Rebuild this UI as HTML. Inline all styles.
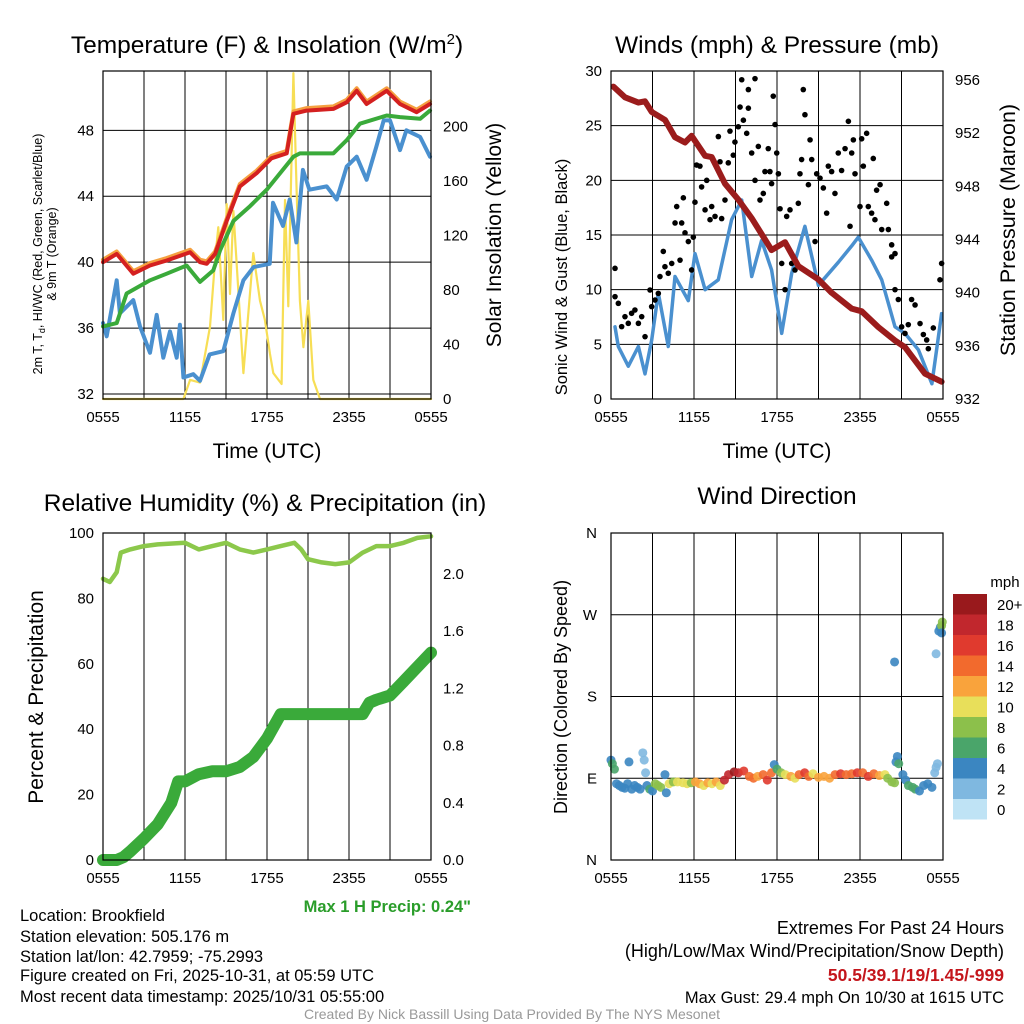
<!DOCTYPE html>
<html><head><meta charset="utf-8"><style>
body{margin:0;background:#fff;font-family:"Liberation Sans",sans-serif}
#wrap{position:relative;width:1024px;height:1024px;overflow:hidden}
svg text{font-family:"Liberation Sans",sans-serif}
</style></head><body><div id="wrap">
<svg id="s" width="1024" height="1024" viewBox="0 0 1024 1024" xmlns="http://www.w3.org/2000/svg"></svg>
</div>
<script>
const xTickLabels=["0555","1155","1755","2355","0555"];
// Temperature panel (hours since 0555)
const tHours=[0,1,2.22,3.44,4.66,6.37,7.1,7.59,8.2,9.05,10.02,11.24,12.32,13.44,13.93,14.9,16.85,17.83,18.56,19.29,20.76,21.73,22.95,23.93];
const tempRed=[40,40.5,39.3,39.8,40.1,40.6,40,39.9,40.5,42.5,44.6,45.4,46.3,46.6,49,49.2,49.3,49.7,50.4,49.6,50.4,49.6,49.1,49.6];
const gHours=[0,1,1.73,3.44,4.66,6.12,7.1,8.07,8.56,9.54,10.76,11.98,13.93,14.41,16.85,17.83,18.8,20.76,21.73,23.2,23.93];
const tempGreen=[36.1,36.3,38.1,38.9,39.3,39.8,38.8,39.5,40.7,42.5,43.4,44.4,46.4,46.6,46.6,47.4,48.4,48.9,48.8,48.7,49.2];
const bHours=[0,0.27,1,1.24,2.22,2.71,3.44,3.93,4.41,4.9,5.39,5.63,5.88,6.61,7.1,7.8,8.8,9.54,10.27,11.02,12.2,12.44,13.17,13.66,14.15,14.63,15.1,16.37,17.1,17.83,18.56,19.29,20,20.54,21,21.73,22.2,23.2,23.93];
const tempBlue=[36.3,35.5,38.9,36.9,37.7,36.1,34.5,36.8,34.2,35.8,34.2,36.2,33,33.2,32.8,34.4,34.6,36.9,38.9,39.7,39.9,43.6,42.2,43.8,41.2,45.6,44.4,44.6,43.8,45.8,46.4,45,47,48.6,48.6,46.8,48,47.6,46.4];
const sHours=[0,5.88,6.37,7.1,7.83,8.2,8.44,8.8,9.05,9.29,9.54,10.27,11,11.49,11.85,12.22,12.46,13.07,13.32,13.56,13.93,14.17,14.41,14.66,15.02,15.39,15.88,24];
const solar=[0,0,14,12,53,102,126,58,143,77,138,19,107,72,58,33,19,11,146,68,239,151,72,38,72,14,0,0];
const tempTicks=[32,36,40,44,48];
const solarTicks=[0,40,80,120,160,200];
// Wind panel
const wHours=[0.29,0.53,1.25,1.98,2.46,2.94,3.42,4.14,4.63,5.59,6.07,6.8,7.76,8.72,9.45,10.17,10.89,11.61,12.34,13.06,14.02,14.99,16.43,17.4,17.88,18.84,19.57,20.53,21.25,22.22,23.2,23.9];
const windSpeed=[6.6,4.8,3,4.8,2.3,5.4,9.7,4.8,11.2,9,13.3,10,10.9,16.4,18.2,11.2,14.5,11.8,6,11.5,15.8,10.4,12.5,14,14.8,12.7,10.9,6.6,6,4.5,1.4,7.8];
const gustHours=[0.29,0.29,0.53,0.77,1.01,1.25,1.49,1.73,1.98,2.22,2.46,2.82,2.94,3.18,3.42,3.54,3.78,3.9,4.14,4.39,4.63,4.75,4.99,5.11,5.35,5.23,5.59,5.83,5.95,6.07,6.19,6.43,6.55,6.8,6.92,7.16,7.28,7.52,7.76,7.88,8,8.24,8.48,8.6,8.84,8.96,9.2,9.33,9.45,9.57,9.81,9.93,9.93,10.17,10.41,10.41,10.65,10.77,11.01,11.13,11.37,11.49,11.61,11.73,11.86,11.98,12.1,12.22,12.34,12.58,12.7,12.94,13.06,13.3,13.54,13.66,13.78,13.9,14.02,14.27,14.39,14.51,14.75,14.87,15.11,15.35,15.59,15.71,15.95,16.19,16.43,16.67,16.92,17.16,17.28,17.4,17.52,17.64,18,18.12,18.24,18.48,18.6,18.84,18.96,19.08,19.2,19.45,19.57,19.93,20.05,20.29,20.29,20.53,20.53,20.77,21.01,21.25,21.49,21.73,21.98,22.34,22.58,22.82,22.94,23.3,23.78,23.9];
const gust=[11.95,9.36,8.75,6.62,7.53,6.92,7.84,8.14,6.92,7.53,5.7,9.97,8.45,9.05,9.66,11.2,13.5,12.1,11.5,12.4,16.1,17.6,12.7,16.1,15.2,18.4,14.4,11.8,14.8,18,21.4,21.3,19.4,17.3,20,16.4,17.6,16.7,24,21.7,16.5,18.2,21.6,24.5,22.3,23.5,24.9,26.7,29.2,25.5,24.3,28.3,26.6,22.5,29.3,20,23.1,18.2,18.8,20.8,22.9,20.8,19.7,27.7,25.1,22.5,20.6,17.4,12.4,10,16.7,17.3,12.4,11.8,17.9,20.6,21.9,28.3,26,19.6,23.7,21.9,14.4,20.6,20.2,19.3,17,21.3,20.8,18.8,22.5,20.9,22.9,25.4,15.8,22.5,23.7,20.6,17.6,23.8,21.3,24.3,17.6,17,22,16.4,19.1,19.6,15.5,17.9,15.5,14.1,13,13.3,10,9.1,6.6,6,6.8,9.1,8.6,6.9,5.9,5.4,4.6,6.5,10.9,12.4];
const pHours=[0.17,1.01,1.98,2.46,2.94,3.9,4.63,5.35,5.83,6.8,7.28,8.24,9.2,10.17,11.61,12.58,13.54,14.99,15.95,17.4,18.12,19.33,20.53,21.25,22.7,23.9];
const pressure=[955.5,954.7,954.3,954.4,953.6,953,951.7,951.3,951.8,950.3,950.2,948.2,947,945.6,943.2,943.8,942,941,940,938.8,938.6,937.4,936.4,935.9,933.9,933.3];
const windTicks=[0,5,10,15,20,25,30];
const presTicks=[932,936,940,944,948,952,956];
// RH panel
const rhHours=[0,0.5,1,1.3,2,3,4,6,7,8,9,10,11,12,13,14,14.5,15,16,17,18,19,20,21,22,23,24];
const rh=[86,85,88,94,95,96,96.5,97,95,96,97,95,94,95,96,97,95,92,91,90.5,91,94,96,96,97,98.5,99];
const prHours=[0,1,1.5,2,3,4,5,5.5,6,7,8,9,10,11,12,13,14,19,19.5,20,21,22,23,24];
const precip=[0,0,0.02,0.06,0.15,0.25,0.4,0.55,0.55,0.6,0.62,0.62,0.65,0.72,0.85,1.02,1.02,1.02,1.1,1.12,1.15,1.25,1.35,1.45];
const rhTicks=[0,20,40,60,80,100];
const prTicks=["0.0","0.4","0.8","1.2","1.6","2.0"];
// Wind direction panel
const dHours=[0,0.1,0.25,0.4,0.6,0.8,1,1.2,1.3,1.5,1.7,1.9,2.1,2.3,2.4,2.5,2.6,2.8,3,3.2,3.4,3.6,3.9,4,4.2,4.5,4.8,5.2,5.5,5.8,6.1,6.4,6.7,7,7.3,7.6,7.9,8.2,8.5,8.9,9.2,9.6,10,10.3,10.6,11,11.3,11.6,11.8,12,12.3,12.6,13,13.3,13.6,14,14.3,14.6,15,15.4,15.8,16.2,16.6,17,17.4,17.8,18.2,18.6,19,19.4,19.8,20,20.3,20.5,20.6,20.7,20.8,21.1,21.3,21.5,21.8,22,22.3,22.6,22.9,23.2,23.4,23.5,23.6,20.5,23.5,23.7,23.8,23.9,23.95,23.9];
const direction=[110,106,100,84,82,80,79,84,108,78,82,80,78,118,110,96,82,78,76,84,82,80,94,74,84,86,86,85,84,85,86,84,82,85,84,86,82,88,94,97,96,98,92,90,92,94,88,96,105,100,96,94,92,90,94,96,92,95,91,92,90,94,95,94,95,96,96,92,95,93,94,90,86,85,108,114,106,94,88,82,80,78,76,82,84,80,96,102,106,218,227,252,256,258,262,250];
const dirSpeed=[4,6,6,4,4,4,4,4,4,4,4,4,4,2,2,2,4,6,4,8,7,8,4,4,9,8,10,10,10,8,11,12,10,12,10,12,10,18,18,19,17,16,14,13,12,14,15,14,4,6,8,10,12,9,14,16,13,10,12,12,12,14,15,14,14,15,13,15,13,12,10,8,8,7,4,4,6,4,4,5,6,5,4,4,4,4,2,2,2,4,1,4,4,7,7,4];
const dirTicks=["N","E","S","W","N"];
const cbLabels=["20+","18","16","14","12","10","8","6","4","2","0"];
const cbColors=["#99191c","#c1272d","#e03a2e","#f26a2d","#f9a33c","#e8df5a","#8cc04b","#4aa56a","#3b86c1","#7fb8e0","#bfe3f5"];

const S=document.getElementById('s');const NS="http://www.w3.org/2000/svg";
function mk(tag,at,parent){const e=document.createElementNS(NS,tag);for(const k in at)e.setAttribute(k,at[k]);(parent||S).appendChild(e);return e;}
function txt(x,y,str,size,anchor,extra){const t=mk('text',Object.assign({x:x,y:y,'font-size':size,'text-anchor':anchor||'middle',fill:'#000'},extra||{}));t.textContent=str;return t;}
function lin(d0,d1,r0,r1){return v=>r0+(v-d0)/(d1-d0)*(r1-r0);}

function frame(x0,y0,x1,y1,name){
 const g=mk('g',{});
 
 
 const xs=lin(0,24,x0,x1);
 for(let h=3;h<24;h+=3){mk('line',{x1:xs(h),x2:xs(h),y1:y0,y2:y1,stroke:'#000','stroke-width':1},g);}
 for(let i=0;i<5;i++){const x=xs(i*6);
  const t=txt(x,y1+23,xTickLabels[i],15);
  
  }
 return {g,xs};
}
function box(x0,y0,x1,y1){mk('rect',{x:x0,y:y0,width:x1-x0,height:y1-y0,fill:'none',stroke:'#000','stroke-width':1.2});}
function path(xs,ys,hx,vals,stroke,w,name){let d='';for(let i=0;i<hx.length;i++)d+=(i?'L':'M')+xs(hx[i]).toFixed(1)+','+ys(vals[i]).toFixed(1);
 const p=mk('path',{d:d,fill:'none',stroke:stroke,'stroke-width':w,'stroke-linejoin':'round','stroke-linecap':'round'});
 
 
 return p;}

// Panel 1
(function(){const X0=103,X1=431,Y0=71,Y1=399;
 const f=frame(X0,Y0,X1,Y1,'temperature-panel');const xs=f.xs;
 const ys=lin(32,51.6,394,71);const ss=lin(0,240.6,399,71);
 tempTicks.forEach(v=>{mk('line',{x1:X0,x2:X1,y1:ys(v),y2:ys(v),stroke:'#000'});const t=txt(X0-9,ys(v)+5,String(v),15,'end');});
 solarTicks.forEach(v=>{const t=txt(X1+12,ss(v)+5,String(v),15,'start');});
 path(xs,ss,sHours,solar,'#f7de55',2.2,'solar-line');
 path(xs,ys,bHours,tempBlue,'#4a90cf',4,'dewpoint-line');
 path(xs,ys,gHours,tempGreen,'#3aaa3a',4,'heat-index-line');
 path(xs,ys,tHours,tempRed.map(v=>v+0.15),'#f5a040',4,'temp-9m-line');
 path(xs,ys,tHours,tempRed,'#d42020',4,'temp-2m-line');
 box(X0,Y0,X1,Y1);
 const ti=txt(267,53,'Temperature (F) & Insolation (W/m',24.5);const sup=mk('tspan',{dy:-9,'font-size':15},ti);sup.textContent='2';const cl=mk('tspan',{dy:9},ti);cl.textContent=')';
 
 const xl=txt(267,458,'Time (UTC)',21);
 const yl=txt(0,0,'2m T, T',12.5,'middle',{transform:'translate(42,254) rotate(-90)'});const sub=mk('tspan',{dy:3,'font-size':9},yl);sub.textContent='d';const r=mk('tspan',{dy:-3},yl);r.textContent=', HI/WC (Red, Green, Scarlet/Blue)';
 
 const yl2=txt(0,0,'& 9m T (Orange)',12.5,'middle',{transform:'translate(56,254) rotate(-90)'});
 const yr=txt(0,0,'Solar Insolation (Yellow)',21,'middle',{transform:'translate(501,235) rotate(-90)'});
})();
// Panel 2
(function(){const X0=611,X1=943,Y0=71,Y1=399;
 const f=frame(X0,Y0,X1,Y1,'wind-panel');const xs=f.xs;
 const ys=lin(0,30,399,71);const ps=lin(932,956,399,80);
 windTicks.forEach(v=>{mk('line',{x1:X0,x2:X1,y1:ys(v),y2:ys(v),stroke:'#000'});const t=txt(X0-9,ys(v)+5,String(v),15,'end');});
 presTicks.forEach(v=>{const t=txt(X1+12,ps(v)+5,String(v),15,'start');});
 path(xs,ys,wHours,windSpeed,'#4a90cf',3.5,'wind-speed-line');
 gust.forEach((v,i)=>{const c=mk('circle',{cx:xs(gustHours[i]),cy:ys(v),r:2.8,fill:'#000'});});
 path(xs,ps,pHours,pressure,'#9b1c1c',6,'pressure-line');
 box(X0,Y0,X1,Y1);
 const ti=txt(777,53,'Winds (mph) & Pressure (mb)',24.5);
 const xl=txt(777,458,'Time (UTC)',21);
 const yl=txt(0,0,'Sonic Wind & Gust (Blue, Black)',16.5,'middle',{transform:'translate(567,277) rotate(-90)'});
 const yr=txt(0,0,'Station Pressure (Maroon)',21.5,'middle',{transform:'translate(1015,230) rotate(-90)'});
})();
// Panel 3
(function(){const X0=103,X1=431,Y0=533,Y1=860;
 const f=frame(X0,Y0,X1,Y1,'humidity-panel');const xs=f.xs;
 const ys=lin(0,100,860,533);const ps=lin(0,2,860,574);
 rhTicks.forEach(v=>{const t=txt(X0-9,ys(v)+5,String(v),15,'end');});
 prTicks.forEach(v=>{const t=txt(X1+12,ps(+v)+5,v,15,'start');});
 path(xs,ys,rhHours,rh,'#8cc84b',4.5,'rh-line');
 path(xs,ps,prHours,precip,'#3aaa3a',12,'precip-line');
 box(X0,Y0,X1,Y1);
 const ti=txt(265,511,'Relative Humidity (%) & Precipitation (in)',24.5);
 const yl=txt(0,0,'Percent & Precipitation',21,'middle',{transform:'translate(43,697) rotate(-90)'});
 const mp=txt(471,912,'Max 1 H Precip: 0.24"',16.5,'end',{fill:'#2a9d2a','font-weight':'bold'});
})();
// Panel 4
(function(){const X0=611,X1=943,Y0=533,Y1=860;
 const f=frame(X0,Y0,X1,Y1,'direction-panel');const xs=f.xs;
 const ys=lin(0,360,860,533);
 dirTicks.forEach((v,i)=>{const y=ys(i*90);mk('line',{x1:X0,x2:X1,y1:y,y2:y,stroke:'#000'});const t=txt(X0-14,y+5,v,15,'end');});
 direction.forEach((v,i)=>{const ci=Math.max(0,Math.min(10,10-Math.round(dirSpeed[i]/2)));
  const c=mk('circle',{cx:xs(dHours[i]),cy:ys(v),r:4.5,fill:cbColors[ci],'fill-opacity':0.9});
  
  });
 box(X0,Y0,X1,Y1);
 const ti=txt(777,504,'Wind Direction',24.5);
 const yl=txt(0,0,'Direction (Colored By Speed)',18,'middle',{transform:'translate(567,697) rotate(-90)'});
 const u=txt(1005,587,'mph',15);
 cbColors.forEach((c,i)=>{const y=594+i*20.5;const r=mk('rect',{x:953,y:y,width:34,height:20.5,fill:c});
  const t=txt(997,y+16,cbLabels[i],15,'start');});
})();
// footer text
["Location: Brookfield","Station elevation: 505.176 m","Station lat/lon: 42.7959; -75.2993","Figure created on Fri, 2025-10-31, at 05:59 UTC","Most recent data timestamp: 2025/10/31 05:55:00"].forEach((s,i)=>{const y=[921,942,962,981,1002][i];const t=txt(20,y,s,16.5,'start');});
(function(){
 let t=txt(1004,934,'Extremes For Past 24 Hours',18,'end');
 t=txt(1004,957,'(High/Low/Max Wind/Precipitation/Snow Depth)',18,'end');
 t=txt(1004,981,'50.5/39.1/19/1.45/-999',17.5,'end',{fill:'#c4161c','font-weight':'bold'});
 t=txt(1004,1003,'Max Gust: 29.4 mph On 10/30 at 1615 UTC',16.5,'end');
 t=txt(512,1019,'Created By Nick Bassill Using Data Provided By The NYS Mesonet',14,'middle',{fill:'#999'});
})();
</script></body></html>
